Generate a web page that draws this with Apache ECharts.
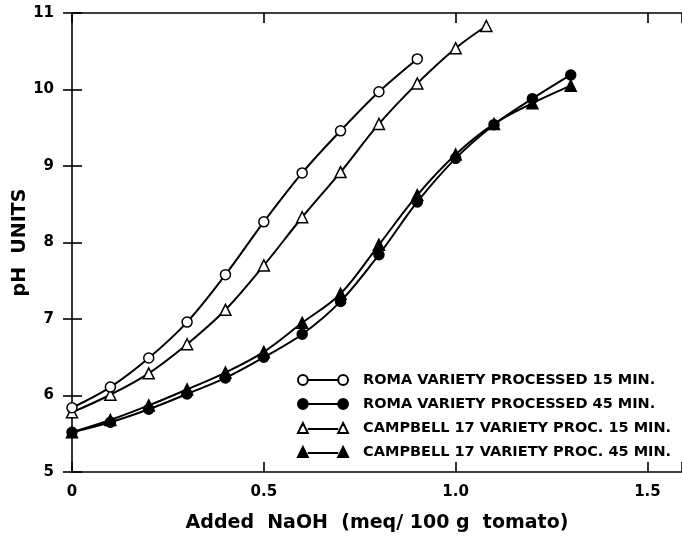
<!DOCTYPE html>
<html>
<head>
<meta charset="utf-8">
<script src="https://cdn.jsdelivr.net/npm/echarts@6/dist/echarts.min.js"></script>
<style>html,body{margin:0;padding:0;background:#fff;}#c{width:682px;height:537px;}</style>
</head>
<body>
<div id="c"></div>
<script>
// ---- data ----
const xRoma15 = [0, 0.1, 0.2, 0.3, 0.4, 0.5, 0.6, 0.7, 0.8, 0.9];
const roma15 = [5.84, 6.11, 6.49, 6.96, 7.58, 8.27, 8.91, 9.46, 9.97, 10.40];
const xRoma45 = [0, 0.1, 0.2, 0.3, 0.4, 0.5, 0.6, 0.7, 0.8, 0.9, 1.0, 1.1, 1.2, 1.3];
const roma45 = [5.52, 5.65, 5.82, 6.02, 6.23, 6.50, 6.80, 7.23, 7.84, 8.53, 9.10, 9.54, 9.88, 10.19];
const xCamp15 = [0, 0.1, 0.2, 0.3, 0.4, 0.5, 0.6, 0.7, 0.8, 0.9, 1.0, 1.08];
const camp15 = [5.78, 6.01, 6.29, 6.67, 7.12, 7.70, 8.33, 8.92, 9.55, 10.08, 10.54, 10.83];
const xCamp45 = [0, 0.1, 0.2, 0.3, 0.4, 0.5, 0.6, 0.7, 0.8, 0.9, 1.0, 1.1, 1.2, 1.3];
const camp45 = [5.52, 5.68, 5.87, 6.08, 6.30, 6.57, 6.95, 7.33, 7.97, 8.62, 9.15, 9.55, 9.82, 10.05];
const seriesNames = [
  'ROMA VARIETY PROCESSED 15 MIN.',
  'ROMA VARIETY PROCESSED 45 MIN.',
  'CAMPBELL 17 VARIETY PROC. 15 MIN.',
  'CAMPBELL 17 VARIETY PROC. 45 MIN.'
];
const xTicks = [0, 0.5, 1.0, 1.5];
const xAxisTitle = 'Added  NaOH  (meq/ 100 g  tomato)';
const yAxisTitle = 'pH  UNITS';

const FONT = 'DejaVu Sans';
const pairs = (xs, ys) => xs.map((x, i) => [x, ys[i]]);

const circIcon = 'path://M1,5.5 A4.5,4.5 0 1,0 10,5.5 A4.5,4.5 0 1,0 1,5.5 Z M10,5.5 L38,5.5 M38,5.5 A4.5,4.5 0 1,0 47,5.5 A4.5,4.5 0 1,0 38,5.5 Z';
const triIcon = 'path://M1,10 L5.5,1 L10,10 Z M10,6.5 L38,6.5 M38,10 L42.5,1 L47,10 Z';

function mkSeries(name, data, symbol, filled, size) {
  return {
    name: name,
    type: 'line',
    data: data,
    smooth: 0.35,
    symbol: symbol,
    symbolSize: size,
    showAllSymbol: true,
    lineStyle: { color: '#000', width: 2 },
    itemStyle: { color: filled ? '#000' : '#fff', borderColor: '#000', borderWidth: 1.5 },
    emphasis: { disabled: true },
    animation: false
  };
}

const axisLineStyle = { show: true, lineStyle: { color: '#000', width: 1.6 } };
const tickStyle = { show: true, inside: true, length: 10, lineStyle: { color: '#000', width: 1.6 } };

const option = {
  backgroundColor: '#fff',
  animation: false,
  grid: { left: 72, right: 0, top: 13, bottom: 65, containLabel: false, outerBoundsMode: 'none' },
  legend: {
    orient: 'vertical',
    left: 297,
    top: 372,
    padding: 0,
    itemWidth: 50,
    itemHeight: 10,
    itemGap: 8,
    selectedMode: false,
    formatter: n => '  ' + n,
    textStyle: { fontFamily: FONT, fontSize: 14.5, fontWeight: 'bold', color: '#000', lineHeight: 16 },
    data: [
      { name: seriesNames[0], icon: circIcon },
      { name: seriesNames[1], icon: circIcon },
      { name: seriesNames[2], icon: triIcon },
      { name: seriesNames[3], icon: triIcon }
    ]
  },
  xAxis: [
    {
      type: 'value', min: 0, max: 1.59, interval: 0.5, position: 'bottom',
      axisLine: axisLineStyle, axisTick: tickStyle, splitLine: { show: false },
      axisLabel: {
        color: '#000', fontFamily: FONT, fontSize: 15, fontWeight: 'bold', margin: 13,
        formatter: v => (xTicks.indexOf(Math.round(v * 10) / 10) < 0 ? '' : (v === 0 ? '0' : v.toFixed(1)))
      },
      name: xAxisTitle, nameLocation: 'middle', nameGap: 42, nameMoveOverlap: false,
      nameTextStyle: { color: '#000', fontFamily: FONT, fontSize: 19, fontWeight: 'bold' }
    },
    {
      type: 'value', min: 0, max: 1.59, interval: 0.5, position: 'top',
      axisLine: axisLineStyle, axisTick: tickStyle, splitLine: { show: false },
      axisLabel: { show: false }
    }
  ],
  yAxis: [
    {
      type: 'value', min: 5, max: 11, interval: 1, position: 'left',
      axisLine: axisLineStyle, axisTick: tickStyle, splitLine: { show: false },
      axisLabel: { color: '#000', fontFamily: FONT, fontSize: 15, fontWeight: 'bold', margin: 18 },
      name: yAxisTitle, nameLocation: 'middle', nameGap: 42, nameRotate: 90, nameMoveOverlap: false,
      nameTextStyle: { color: '#000', fontFamily: FONT, fontSize: 19, fontWeight: 'bold' }
    },
    {
      type: 'value', min: 5, max: 11, interval: 1, position: 'right',
      axisLine: { show: false },
      axisTick: { show: true, inside: true, length: 9, lineStyle: { color: '#000', width: 1.6 } },
      splitLine: { show: false },
      axisLabel: { show: false }
    }
  ],
  series: [
    mkSeries(seriesNames[1], pairs(xRoma45, roma45), 'circle', true, 10),
    mkSeries(seriesNames[3], pairs(xCamp45, camp45), 'triangle', true, 11),
    mkSeries(seriesNames[2], pairs(xCamp15, camp15), 'triangle', false, 11),
    mkSeries(seriesNames[0], pairs(xRoma15, roma15), 'circle', false, 10)
  ]
};

const chart = echarts.init(document.getElementById('c'), null, { renderer: 'canvas' });
chart.setOption(option);
</script>
</body>
</html>
